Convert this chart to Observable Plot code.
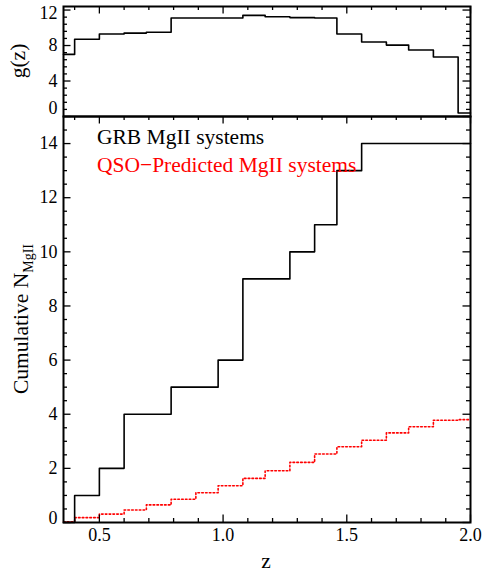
<!DOCTYPE html>
<html><head><meta charset="utf-8">
<script src="https://cdn.jsdelivr.net/npm/d3@7"></script>
<script src="https://cdn.jsdelivr.net/npm/@observablehq/plot@0.6"></script>
<style>
body{margin:0;background:#fff;}
#chart{width:485px;height:581px;position:relative;}
#chart svg{display:block;overflow:visible;background:transparent;}
</style></head><body><div id="chart"></div>
<script>
// Redshift bin edges (first = left plot edge, last = right plot edge)
const binEdges = [0.355, 0.40, 0.50, 0.60, 0.69, 0.79, 0.89, 0.98, 1.08, 1.17, 1.27, 1.37, 1.46, 1.56, 1.66, 1.75, 1.85, 1.95, 2.0];
// g(z) per bin (top panel)
const gValues = [7.0, 8.7, 9.3, 9.4, 9.5, 11.1, 11.1, 11.1, 11.4, 11.25, 11.15, 11.1, 9.3, 8.4, 8.05, 7.5, 6.7, 0.4];
// Cumulative GRB MgII systems per bin
const grbCumulative = [0, 1, 2, 4, 4, 5, 5, 6, 9, 9, 10, 11, 13, 14, 14, 14, 14, 14];
// Cumulative QSO-predicted MgII systems per bin
const qsoCumulative = [0.03, 0.18, 0.31, 0.46, 0.65, 0.86, 1.10, 1.36, 1.63, 1.91, 2.22, 2.53, 2.80, 3.04, 3.31, 3.54, 3.78, 3.80];
// Axis ticks
const xTicks = [0.5, 1.0, 1.5, 2.0];
const xMinorTicks = [0.4, 0.6, 0.7, 0.8, 0.9, 1.1, 1.2, 1.3, 1.4, 1.6, 1.7, 1.8, 1.9];
const gTicks = [0, 4, 8, 12];
const gMinorTicks = [0.8, 1.6, 2.4, 3.2, 4.8, 5.6, 6.4, 7.2, 8.8, 9.6, 10.4, 11.2];
const nTicks = [0, 2, 4, 6, 8, 10, 12, 14];
const nMinorTicks = [0.5, 1, 1.5, 2.5, 3, 3.5, 4.5, 5, 5.5, 6.5, 7, 7.5, 8.5, 9, 9.5, 10.5, 11, 11.5, 12.5, 13, 13.5, 14.5];
const legendLabels = ["GRB MgII systems", "QSO−Predicted MgII systems"];
const legendColors = ["#000000", "#ff0000"];

const FONT = '"Liberation Serif", "DejaVu Serif", serif';
const W = 485, ML = 63, MR = 15;
const innerW = W - ML - MR;
const xDomain = [binEdges[0], binEdges[binEdges.length - 1]];
const MAJ = 7.5, MIN = 4;

function steps(vals) {
  const pts = vals.map((v, i) => ({z: binEdges[i], v}));
  pts.push({z: binEdges[binEdges.length - 1], v: vals[vals.length - 1]});
  return pts;
}

// ---------- top panel ----------
const topH = 116, topMT = 6, topInner = topH - topMT;
const topPlot = Plot.plot({
  width: W, height: topH, marginLeft: ML, marginRight: MR, marginTop: topMT, marginBottom: 0,
  x: {domain: xDomain, axis: null},
  y: {domain: [0, 12.4], axis: null},
  style: {fontFamily: FONT, fontSize: "18px", background: "transparent", overflow: "visible"},
  marks: [
    Plot.line(steps(gValues), {x: "z", y: "v", curve: "step-after", stroke: "#000", strokeWidth: 1.6}),
    Plot.ruleX(xTicks, {insetBottom: topInner - MAJ, stroke: "#000", strokeWidth: 1.3}),
    Plot.ruleX(xMinorTicks, {insetBottom: topInner - MIN, stroke: "#000", strokeWidth: 1.3}),
    Plot.ruleY(gTicks, {insetRight: innerW - MAJ, stroke: "#000", strokeWidth: 1.3}),
    Plot.ruleY(gMinorTicks, {insetRight: innerW - MIN, stroke: "#000", strokeWidth: 1.3}),
    Plot.ruleY(gTicks, {insetLeft: innerW - MAJ, stroke: "#000", strokeWidth: 1.3}),
    Plot.ruleY(gMinorTicks, {insetLeft: innerW - MIN, stroke: "#000", strokeWidth: 1.3}),
    Plot.text(gTicks.filter(d => d > 0 && d < 12), {y: d => d, text: d => String(d), frameAnchor: "left", textAnchor: "end", dx: -6, fontSize: 18, fill: "#000"}),
    Plot.text(gTicks.filter(d => d === 12), {y: d => d, text: d => String(d), frameAnchor: "left", textAnchor: "end", dx: -6, dy: 3, fontSize: 18, fill: "#000"}),
    Plot.text(gTicks.filter(d => d === 0), {y: d => d, text: d => String(d), frameAnchor: "left", textAnchor: "end", dx: -6, dy: -8, fontSize: 18, fill: "#000"}),
    Plot.frame({stroke: "#000", strokeWidth: 2})
  ]
});

// ---------- bottom panel ----------
const botH = 465, botMB = 59, botInner = botH - botMB;
const botPlot = Plot.plot({
  width: W, height: botH, marginLeft: ML, marginRight: MR, marginTop: 0, marginBottom: botMB,
  x: {domain: xDomain, axis: null},
  y: {domain: [0, 15], axis: null},
  style: {fontFamily: FONT, fontSize: "18px", background: "transparent", overflow: "visible"},
  marks: [
    Plot.line(steps(qsoCumulative), {x: "z", y: "v", curve: "step-after", stroke: "#ff0000", strokeWidth: 1.6, strokeDasharray: "1.6,2.2"}),
    Plot.line(steps(grbCumulative), {x: "z", y: "v", curve: "step-after", stroke: "#000", strokeWidth: 1.6}),
    Plot.ruleX(xTicks, {insetTop: botInner - MAJ, stroke: "#000", strokeWidth: 1.3}),
    Plot.ruleX(xMinorTicks, {insetTop: botInner - MIN, stroke: "#000", strokeWidth: 1.3}),
    Plot.ruleX(xTicks, {insetBottom: botInner - MAJ, stroke: "#000", strokeWidth: 1.3}),
    Plot.ruleX(xMinorTicks, {insetBottom: botInner - MIN, stroke: "#000", strokeWidth: 1.3}),
    Plot.ruleY(nTicks, {insetRight: innerW - MAJ, stroke: "#000", strokeWidth: 1.3}),
    Plot.ruleY(nMinorTicks, {insetRight: innerW - MIN, stroke: "#000", strokeWidth: 1.3}),
    Plot.ruleY(nTicks, {insetLeft: innerW - MAJ, stroke: "#000", strokeWidth: 1.3}),
    Plot.ruleY(nMinorTicks, {insetLeft: innerW - MIN, stroke: "#000", strokeWidth: 1.3}),
    Plot.text(nTicks.filter(d => d > 0), {y: d => d, text: d => String(d), frameAnchor: "left", textAnchor: "end", dx: -6, fontSize: 18, fill: "#000"}),
    Plot.text(nTicks.filter(d => d === 0), {y: d => d, text: d => String(d), frameAnchor: "left", textAnchor: "end", dx: -6, dy: -4.5, fontSize: 18, fill: "#000"}),
    Plot.text(xTicks, {x: d => d, text: d => d.toFixed(1), frameAnchor: "bottom", dy: 18, fontSize: 18, fill: "#000"}),
    Plot.frame({stroke: "#000", strokeWidth: 2})
  ]
});

const chart = document.getElementById("chart");
chart.appendChild(topPlot);
chart.appendChild(botPlot);

// axis titles & legend
function addText(sel, opts) {
  const t = sel.append("text")
    .attr("text-anchor", opts.anchor || "start")
    .style("text-anchor", opts.anchor || "start")
    .attr("font-family", FONT).style("font-family", FONT)
    .attr("font-size", 21.5).style("font-size", "21.5px")
    .attr("fill", opts.fill || "#000").style("fill", opts.fill || "#000");
  if (opts.transform) t.attr("transform", opts.transform);
  if (opts.x != null) t.attr("x", opts.x);
  if (opts.y != null) t.attr("y", opts.y);
  return t;
}

const ts = d3.select(topPlot);
addText(ts, {anchor: "middle", transform: "translate(25,61) rotate(-90)"}).text("g(z)");

const bs = d3.select(botPlot);
const yl = addText(bs, {anchor: "middle", transform: "translate(28,203) rotate(-90)"});
yl.append("tspan").text("Cumulative N");
yl.append("tspan").style("font-size", "14px").attr("dy", 5).text("MgII");

addText(bs, {anchor: "middle", x: 266, y: 452}).text("z");

legendLabels.forEach((lab, i) => {
  addText(bs, {anchor: "start", x: 97, y: 27.5 + i * 28.5, fill: legendColors[i]}).text(lab);
});
</script></body></html>
